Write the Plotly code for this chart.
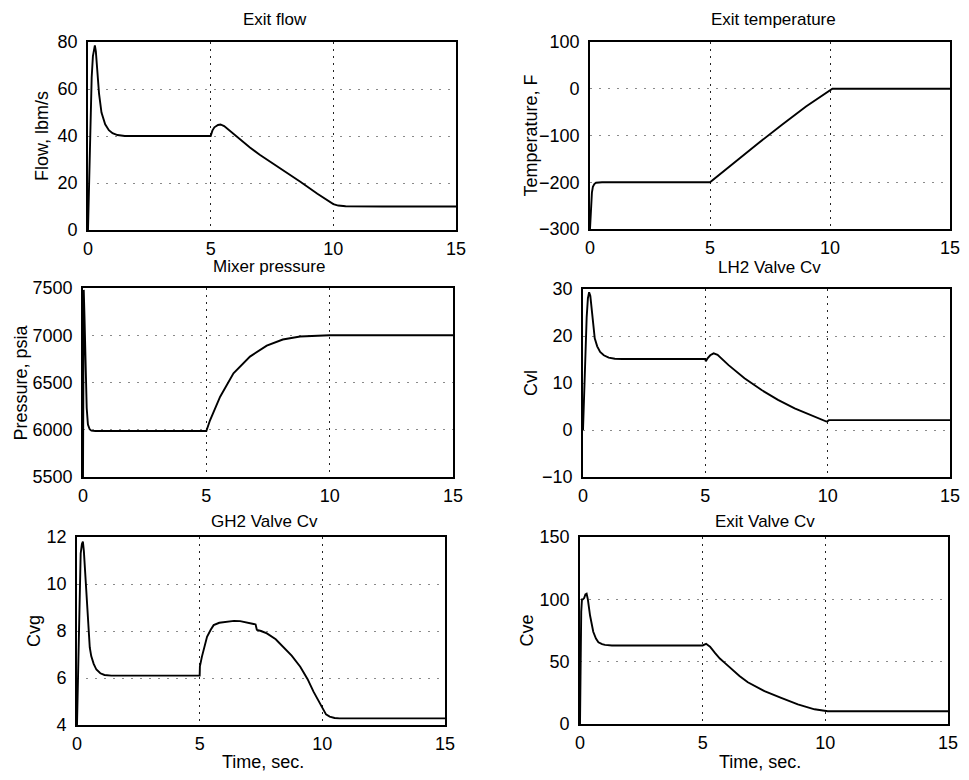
import plotly.graph_objects as go

# ---------------- data ----------------
flow_t = [0, 0.05, 0.1, 0.15, 0.2, 0.25, 0.28, 0.32, 0.38, 0.45, 0.55, 0.7, 0.85, 1.0, 1.2, 1.5, 3.0,
          5.0, 5.07, 5.15, 5.3, 5.4, 5.55, 5.7, 5.95, 6.3, 6.6, 7.0, 7.5, 8.0, 8.67, 9.35, 10.0, 10.2, 10.5,
          12.0, 15.0]
flow_v = [0, 25, 50, 65, 74, 78, 78.5, 76, 67, 58, 50, 45, 42.5, 41.2, 40.4, 40, 40,
          40, 42.3, 43.7, 44.7, 44.9, 44.2, 42.9, 40.8, 37.6, 35.1, 32.0, 28.6, 25.1, 20.4, 15.4, 11.0, 10.4,
          10.1, 10, 10]

temp_t = [0, 0.02, 0.05, 0.08, 0.12, 0.18, 0.25, 0.35, 0.5, 5.0, 6.0, 7.0, 8.0, 9.0, 10.1, 10.3, 15.0]
temp_v = [-300, -270, -240, -222, -210, -204, -201, -200, -200, -200, -158, -117, -77, -38, 0, 0, 0]

pres_t = [0, 0.03, 0.06, 0.09, 0.12, 0.15, 0.2, 0.27, 0.34, 0.5, 1.0, 5.0,
          5.15, 5.56, 6.1, 6.77, 7.45, 8.1, 8.8, 9.5, 10.0, 15.0]
pres_v = [5500, 7480, 7200, 6800, 6500, 6230, 6055, 6005, 5990, 5987, 5987, 5987,
          6100, 6350, 6597, 6774, 6890, 6955, 6986, 6998, 7000, 7000]

cvl_t = [0, 0.05, 0.1, 0.15, 0.2, 0.25, 0.3, 0.38, 0.48, 0.58, 0.7, 0.85, 1.05, 1.3, 1.6, 5.0,
         5.02, 5.1, 5.2, 5.34, 5.5, 5.95, 6.6, 7.3, 7.97, 8.65, 9.3, 9.95, 10.0, 10.05, 15.0]
cvl_v = [0, 8, 17, 24, 28, 29.3, 28.5, 24, 19.5, 17.8, 16.6, 15.9, 15.4, 15.15, 15.1, 15.1,
         14.6, 15.3, 15.9, 16.3, 16.0, 13.8, 11, 8.5, 6.4, 4.6, 3.2, 1.8, 1.9, 2.1, 2.1]

cvg_t = [0, 0.05, 0.1, 0.15, 0.2, 0.24, 0.28, 0.33, 0.38, 0.45, 0.52, 0.58, 0.68, 0.79, 0.95, 1.12, 1.4, 5.0,
         5.01, 5.09, 5.2, 5.3, 5.45, 5.57, 5.8, 6.1, 6.4, 6.65, 6.9, 7.2, 7.28, 7.33, 7.5, 7.74, 8.1, 8.4,
         8.75, 9.1, 9.4, 9.64, 9.85, 10.04, 10.15, 10.3, 10.5, 10.7, 15.0]
cvg_v = [4, 7, 10, 11.3, 11.7, 11.8, 11.4, 10.5, 9.5, 8.1, 7.3, 6.93, 6.6, 6.36, 6.2, 6.13, 6.1, 6.1,
         6.5, 6.9, 7.4, 7.75, 8.05, 8.25, 8.35, 8.4, 8.43, 8.42, 8.38, 8.3, 8.28, 8.05, 8.0, 7.9, 7.65, 7.33,
         6.95, 6.48, 5.95, 5.42, 5.0, 4.64, 4.45, 4.36, 4.3, 4.28, 4.28]

cve_t = [0, 0.02, 0.05, 0.08, 0.12, 0.17, 0.22, 0.27, 0.32, 0.41, 0.54, 0.65, 0.75, 0.9, 1.02, 1.3, 5.0,
         5.14, 5.3, 5.5, 5.7, 5.9, 6.16, 6.5, 6.84, 7.2, 7.52, 8.2, 8.88, 9.56, 9.97, 10.1, 15.0]
cve_v = [0, 50, 90, 100, 100, 101, 104, 104.5, 100, 87, 74, 68.5, 65.6, 64, 63.5, 63, 63,
         64.3, 62, 57, 52.5, 49, 44.5, 38.5, 33.5, 29.5, 26.3, 21, 15.8, 11.8, 10.3, 10.2, 10.2]

titles = ["Exit flow", "Exit temperature", "Mixer pressure", "LH2 Valve Cv", "GH2 Valve Cv", "Exit Valve Cv"]
ytitles = ["Flow, lbm/s", "Temperature, F", "Pressure, psia", "Cvl", "Cvg", "Cve"]
xtitle = "Time, sec."
x_ticks = [0, 5, 10, 15]
y_ticks = [
    [0, 20, 40, 60, 80],
    [-300, -200, -100, 0, 100],
    [5500, 6000, 6500, 7000, 7500],
    [-10, 0, 10, 20, 30],
    [4, 6, 8, 10, 12],
    [0, 50, 100, 150],
]
series = [(flow_t, flow_v), (temp_t, temp_v), (pres_t, pres_v),
          (cvl_t, cvl_v), (cvg_t, cvg_v), (cve_t, cve_v)]

# ---------------- layout geometry (page pixels) ----------------
PAGE_W, PAGE_H = 969, 780
OFF = 8                      # default body margin of the html page
W, H = PAGE_W - 2 * OFF, PAGE_H - 2 * OFF
boxes = [  # left, right, top, bottom in page pixels
    (88, 456, 42, 230),
    (590, 950, 42, 229),
    (83, 453, 288, 477),
    (583, 950, 289, 477),
    (77, 445, 537, 725),
    (580, 948, 537, 724),
]
title_pos = [(275, 20), (773, 20), (269, 266), (769, 267), (264, 521), (765, 521)]
ytitle_x = [42, 530, 20, 531, 34, 526]
xtitle_pos = [(263, 762), (760, 762)]


def px(x):
    return (x - OFF) / W


def py(y):
    return 1 - (y - OFF) / H


FONT = "Liberation Sans, Arial, Helvetica, sans-serif"

fig = go.Figure()
layout = dict(
    width=W, height=H,
    margin=dict(l=0, r=0, t=0, b=0, autoexpand=False),
    paper_bgcolor="white", plot_bgcolor="white",
    showlegend=False,
    font=dict(family=FONT, color="black", size=18),
)
annotations = []

for i, ((t, v), yt, box) in enumerate(zip(series, y_ticks, boxes)):
    n = i + 1
    xa = "x" if n == 1 else f"x{n}"
    ya = "y" if n == 1 else f"y{n}"
    fig.add_trace(go.Scatter(x=t, y=v, mode="lines", xaxis=xa, yaxis=ya,
                             line=dict(color="black", width=1.9), hoverinfo="skip"))
    l, r, tp, bt = box
    layout[f"xaxis{n if n > 1 else ''}"] = dict(
        domain=[px(l), px(r)], anchor=ya, range=[0, 15], tickvals=x_ticks,
        showline=True, linecolor="black", linewidth=1.6, mirror=True,
        showgrid=True, gridcolor="#222222", griddash="2px,5px", gridwidth=1.3,
        zeroline=False, ticks="", ticklabelstandoff=2, automargin=False,
        ticklabeloverflow="allow",
        tickfont=dict(size=18, family=FONT, color="black"),
    )
    layout[f"yaxis{n if n > 1 else ''}"] = dict(
        domain=[py(bt), py(tp)], anchor=xa, range=[yt[0], yt[-1]], tickvals=yt,
        showline=True, linecolor="black", linewidth=1.6, mirror=True,
        showgrid=True, gridcolor="#8a8a8a", griddash="2px,7px", gridwidth=1.2,
        zeroline=False, ticks="", ticklabelstandoff=5, automargin=False,
        ticklabeloverflow="allow",
        tickfont=dict(size=18, family=FONT, color="black"),
    )
    tx, ty = title_pos[i]
    annotations.append(dict(text=titles[i], x=px(tx), y=py(ty), xref="paper", yref="paper",
                            xanchor="center", yanchor="middle", showarrow=False,
                            font=dict(size=17, family=FONT, color="black")))
    annotations.append(dict(text=ytitles[i], x=px(ytitle_x[i]), y=py((tp + bt) / 2),
                            xref="paper", yref="paper", textangle=-90,
                            xanchor="center", yanchor="middle", showarrow=False,
                            font=dict(size=18, family=FONT, color="black")))

for (tx, ty) in xtitle_pos:
    annotations.append(dict(text=xtitle, x=px(tx), y=py(ty), xref="paper", yref="paper",
                            xanchor="center", yanchor="middle", showarrow=False,
                            font=dict(size=18, family=FONT, color="black")))

layout["annotations"] = annotations
fig.update_layout(**layout)
fig.write_html("out.html")
